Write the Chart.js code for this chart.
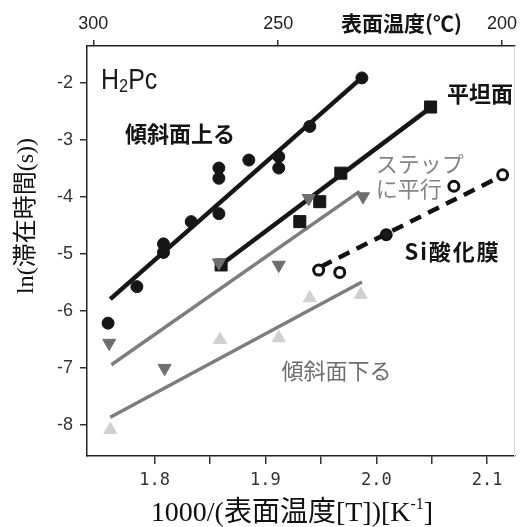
<!DOCTYPE html>
<html>
<head>
<meta charset="utf-8">
<script src="https://cdn.jsdelivr.net/npm/chart.js@4.4.0/dist/chart.umd.min.js"></script>
<style>
  html, body { margin: 0; padding: 0; background: #fff; }
  #chart { display: block; }
</style>
</head>
<body>
<canvas id="chart" width="524" height="527"></canvas>
<script>
// values: x = 1000/T [1/K], y = ln(residence time)
const upX = [1.758, 1.784, 1.808, 1.808, 1.833, 1.858, 1.858, 1.858, 1.885, 1.912, 1.912, 1.940, 1.987];
const upY = [-6.21, -5.57, -4.82, -4.97, -4.43, -3.49, -3.67, -4.29, -3.35, -3.29, -3.49, -2.76, -1.91];

const flatX = [1.860, 1.931, 1.949, 1.968, 2.049];
const flatY = [-5.19, -4.43, -4.08, -3.58, -2.42];

const stepX = [1.759, 1.809, 1.858, 1.912, 1.939, 1.988];
const stepY = [-6.56, -7.00, -5.15, -5.19, -4.02, -3.99];

const downX = [1.760, 1.859, 1.912, 1.940, 1.986];
const downY = [-8.08, -6.50, -6.47, -5.77, -5.71];

const oxX = [1.948, 1.967, 2.009, 2.070, 2.114];
const oxY = [-5.28, -5.32, -4.66, -3.81, -3.61];

// fitted lines (end points)
const upFitX = [1.760, 1.989];
const upFitY = [-5.79, -1.87];
const flatFitX = [1.859, 2.049];
const flatFitY = [-5.20, -2.43];
const stepFitX = [1.761, 1.985];
const stepFitY = [-6.94, -3.90];
const downFitX = [1.760, 1.987];
const downFitY = [-7.86, -5.49];
const oxFitX = [1.950, 2.116];
const oxFitY = [-5.22, -3.60];

// axes
const xTicks = [1.8, 1.85, 1.9, 1.95, 2.0, 2.05, 2.1];
const xTickLabels = ['1.8', '', '1.9', '', '2.0', '', '2.1'];
const yTicks = [-8, -7, -6, -5, -4, -3, -2];
const topTemps = [300, 250, 200];

const xMin = 1.739, xMax = 2.1247;
const yMin = -8.54, yMax = -1.35;

function pts(xs, ys) {
    return xs.map((x, i) => ({ x: x, y: ys[i] }));
}

const notes = [
    { text: '傾斜面上る', x: 1.7732, y: -2.889, bold: true, color: '#141414', size: 22, sp: 0 },
    { text: '平坦面', x: 2.0639, y: -2.188, bold: true, color: '#141414', size: 22, sp: 0 },
    { text: 'ステップ', x: 1.9995, y: -3.416, bold: false, color: '#858585', size: 22, sp: 0 },
    { text: 'に平行', x: 1.9995, y: -3.854, bold: false, color: '#858585', size: 22, sp: 0 },
    { text: 'Si酸化膜', x: 2.0254, y: -4.951, bold: true, color: '#141414', size: 22, sp: 2 },
    { text: '傾斜面下る', x: 1.9145, y: -7.047, bold: false, color: '#6e6e6e', size: 22, sp: 0 },
    { text: '表面温度(℃)', x: 1.9682, y: -0.942, bold: true, color: '#141414', size: 21, sp: 0 }
];

const textPlugin = {
    id: 'texts',
    afterDraw(chart) {
        const ctx = chart.ctx;
        const xs = chart.scales.x, ys = chart.scales.y;
        ctx.save();
        ctx.textAlign = 'left';
        ctx.textBaseline = 'middle';
        notes.forEach(n => {
            ctx.font = (n.bold ? 'bold ' : '') + n.size + 'px "Noto Sans CJK JP"';
            ctx.letterSpacing = n.sp + 'px';
            ctx.fillStyle = n.color;
            ctx.fillText(n.text, xs.getPixelForValue(n.x), ys.getPixelForValue(n.y));
        });
        ctx.letterSpacing = '0px';

        // H2Pc with subscript, narrow face
        ctx.textBaseline = 'alphabetic';
        ctx.fillStyle = '#1a1a1a';
        ctx.save();
        ctx.translate(xs.getPixelForValue(1.7517), ys.getPixelForValue(-2.1));
        ctx.scale(0.86, 1);
        ctx.font = '29px "Liberation Sans"';
        ctx.fillText('H', 0, 0);
        let w = ctx.measureText('H').width;
        ctx.font = '19px "Liberation Sans"';
        ctx.fillText('2', w, 3);
        w += ctx.measureText('2').width;
        ctx.font = '29px "Liberation Sans"';
        ctx.fillText('Pc', w, 0);
        ctx.restore();

        // bottom axis title
        ctx.fillStyle = '#111';
        const big = '28px "Liberation Serif", "Noto Sans CJK JP"';
        const small = '16px "Liberation Serif", "Noto Sans CJK JP"';
        const p1 = '1000/(表面温度[T])[K', p2 = '-1', p3 = ']';
        ctx.font = big;
        const w1 = ctx.measureText(p1).width, w3 = ctx.measureText(p3).width;
        ctx.font = small;
        const w2 = ctx.measureText(p2).width;
        let x0 = 292 - (w1 + w2 + w3) / 2;
        ctx.font = big;
        ctx.fillText(p1, x0, 521);
        ctx.font = small;
        ctx.fillText(p2, x0 + w1, 509);
        ctx.font = big;
        ctx.fillText(p3, x0 + w1 + w2, 521);

        // left axis title
        ctx.save();
        ctx.translate(27, 216);
        ctx.rotate(-Math.PI / 2);
        ctx.textAlign = 'center';
        ctx.textBaseline = 'middle';
        ctx.font = '24px "Liberation Serif", "Noto Sans CJK JP"';
        ctx.fillText('ln(滞在時間(s))', 0, 0);
        ctx.restore();

        ctx.restore();
    }
};

const ctx = document.getElementById('chart').getContext('2d');
new Chart(ctx, {
    type: 'scatter',
    data: {
        datasets: [
            { data: pts(stepX, stepY), pointStyle: 'triangle', rotation: 180, pointRadius: 7.5,
              backgroundColor: '#6e6e6e', borderColor: '#6e6e6e', borderWidth: 1 },
            { data: pts(flatX, flatY), pointStyle: 'rect', pointRadius: 8.5,
              backgroundColor: '#161616', borderColor: '#161616', borderWidth: 1 },
            { data: pts(upX, upY), pointStyle: 'circle', pointRadius: 6,
              backgroundColor: '#161616', borderColor: '#161616', borderWidth: 1 },
            { data: pts(oxX, oxY), pointStyle: 'circle', pointRadius: 5,
              backgroundColor: ['#fff', '#fff', '#1a1a1a', '#fff', '#fff'], borderColor: '#111', borderWidth: 3 },
            { data: pts(downX, downY), pointStyle: 'triangle', pointRadius: 7.5,
              backgroundColor: '#d0d0d0', borderColor: '#d0d0d0', borderWidth: 1 },

            { data: pts(upFitX, upFitY), showLine: true, pointRadius: 0, borderColor: '#161616', borderWidth: 4.5 },
            { data: pts(flatFitX, flatFitY), showLine: true, pointRadius: 0, borderColor: '#161616', borderWidth: 4.5 },
            { data: pts(stepFitX, stepFitY), showLine: true, pointRadius: 0, borderColor: '#7d7d7d', borderWidth: 3.5 },
            { data: pts(downFitX, downFitY), showLine: true, pointRadius: 0, borderColor: '#7d7d7d', borderWidth: 3.5 },
            { data: pts(oxFitX, oxFitY), showLine: true, pointRadius: 0, borderColor: '#111', borderWidth: 4.5,
              borderDash: [12, 8] }
        ]
    },
    options: {
        responsive: false,
        devicePixelRatio: 1,
        animation: false,
        layout: { padding: 0 },
        plugins: { legend: { display: false }, tooltip: { enabled: false } },
        scales: {
            x: {
                type: 'linear', position: 'bottom', min: xMin, max: xMax,
                afterFit: s => { s.height = 71; },
                afterBuildTicks: s => { s.ticks = xTicks.map(v => ({ value: v })); },
                grid: { drawOnChartArea: false, tickLength: 8, color: '#333', lineWidth: 1.5 },
                border: { color: '#222', width: 1.5 },
                ticks: { autoSkip: false, maxRotation: 0, padding: 6, color: '#333',
                         font: { family: '"DejaVu Sans Mono"', size: 17 },
                         callback: (v, i) => xTickLabels[i] }
            },
            x2: {
                type: 'linear', position: 'top', min: xMin, max: xMax,
                afterFit: s => { s.height = 46; },
                afterBuildTicks: s => { s.ticks = topTemps.map(t => ({ value: 1000 / (t + 273.15) })); },
                grid: { drawOnChartArea: false, tickLength: 6, color: '#333', lineWidth: 1.5 },
                border: { color: '#222', width: 1.5 },
                ticks: { autoSkip: false, maxRotation: 0, padding: 5, color: '#222',
                         font: { family: '"Liberation Sans"', size: 18 },
                         callback: (v, i) => String(topTemps[i]) }
            },
            y: {
                type: 'linear', position: 'left', min: yMin, max: yMax,
                afterFit: s => { s.width = 87; },
                afterBuildTicks: s => { s.ticks = yTicks.map(v => ({ value: v })); },
                grid: { drawOnChartArea: false, tickLength: 7, color: '#333', lineWidth: 1.5 },
                border: { color: '#222', width: 1.5 },
                ticks: { autoSkip: false, padding: 7, color: '#333',
                         font: { family: '"Liberation Sans"', size: 18 },
                         callback: v => String(v) }
            },
            y2: {
                type: 'linear', position: 'right', min: yMin, max: yMax,
                afterFit: s => { s.width = 6; },
                grid: { drawOnChartArea: false, drawTicks: false },
                border: { color: '#d8d8d8', width: 1 },
                ticks: { display: false }
            }
        }
    },
    plugins: [textPlugin]
});
</script>
</body>
</html>
